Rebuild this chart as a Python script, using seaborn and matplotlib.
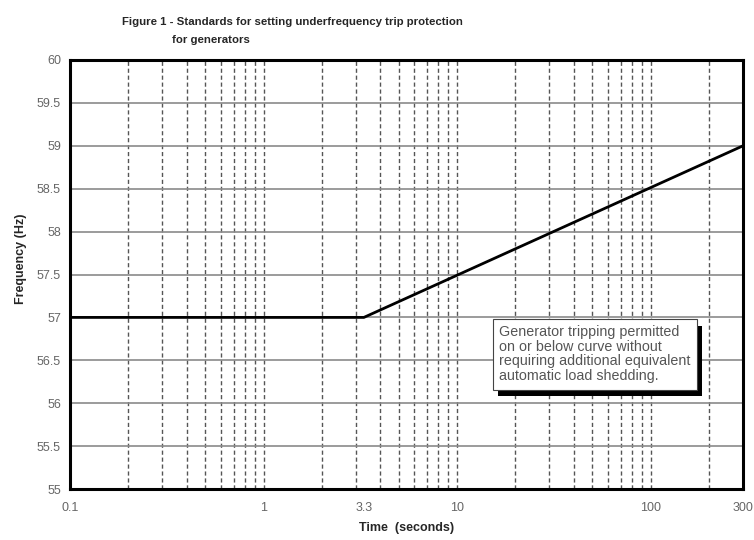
import matplotlib
matplotlib.use("Agg")
import matplotlib.pyplot as plt
import matplotlib.patheffects as pe
import seaborn as sns
import pandas as pd

sns.set_style("white")
plt.rcParams['font.family'] = ['Liberation Sans', 'DejaVu Sans']

# Data
time_s = [0.1, 3.3, 300]
freq_hz = [57.0, 57.0, 59.0]
x_ticks = [0.1, 1, 3.3, 10, 100, 300]
x_ticklabels = ["0.1", "1", "3.3", "10", "100", "300"]
y_ticks = [55, 55.5, 56, 56.5, 57, 57.5, 58, 58.5, 59, 59.5, 60]
y_ticklabels = ["55", "55.5", "56", "56.5", "57", "57.5", "58", "58.5", "59", "59.5", "60"]
grid_x = [m * d for d in (0.1, 1, 10, 100) for m in range(1, 10)]
grid_x = [g for g in grid_x if 0.1 < g < 300]

df = pd.DataFrame({"Time": time_s, "Frequency": freq_hz})

fig = plt.figure(figsize=(7.54, 5.4), dpi=100)
ax = fig.add_axes([0.0928, 0.0944, 0.8926, 0.7945])

ax.set_xscale("log")
ax.set_xlim(0.1, 300)
ax.set_ylim(55, 60)

for g in grid_x:
    ax.axvline(g, color="#555555", lw=1.0, ls=(0, (3, 2)), zorder=1)
for yv in y_ticks:
    ax.axhline(yv, color="#8a8a8a", lw=1.2, zorder=1)

sns.lineplot(data=df, x="Time", y="Frequency", ax=ax, color="black", lw=2.0, zorder=3)

ax.set_xticks(x_ticks)
ax.set_xticklabels(x_ticklabels)
ax.xaxis.set_minor_locator(matplotlib.ticker.NullLocator())
ax.set_yticks(y_ticks)
ax.set_yticklabels(y_ticklabels)
ax.tick_params(axis="both", labelsize=9, labelcolor="#666666", length=3, color="#444444")
ax.tick_params(axis="x", pad=6)

for s in ax.spines.values():
    s.set_color("black")
    s.set_linewidth(2.2)
    s.set_visible(True)

ax.set_xlabel("Time  (seconds)", fontsize=9, fontweight="bold", labelpad=6)
ax.set_ylabel("Frequency (Hz)", fontsize=9, fontweight="bold", labelpad=6)
ax.yaxis.set_label_coords(-0.064, 0.536)

fig.text(122/754, 1 - 22/540, "Figure 1 - Standards for setting underfrequency trip protection",
         fontsize=8.2, fontweight="bold", ha="left", va="center")
fig.text(172/754, 1 - 40/540, "for generators",
         fontsize=8.2, fontweight="bold", ha="left", va="center")

note = ("Generator tripping permitted\non or below curve without\n"
        "requiring additional equivalent\nautomatic load shedding.")
t = ax.text(0.6375, 0.382, note, transform=ax.transAxes, fontsize=10.3, color="#555555",
            ha="left", va="top", linespacing=1.06,
            bbox=dict(boxstyle="square,pad=0.45", fc="white", ec="#444444", lw=0.8), zorder=6)
t.get_bbox_patch().set_path_effects([
    pe.SimplePatchShadow(offset=(4, -5), shadow_rgbFace="black", alpha=1.0),
    pe.Normal()])

fig.savefig("out.png", dpi=100)
